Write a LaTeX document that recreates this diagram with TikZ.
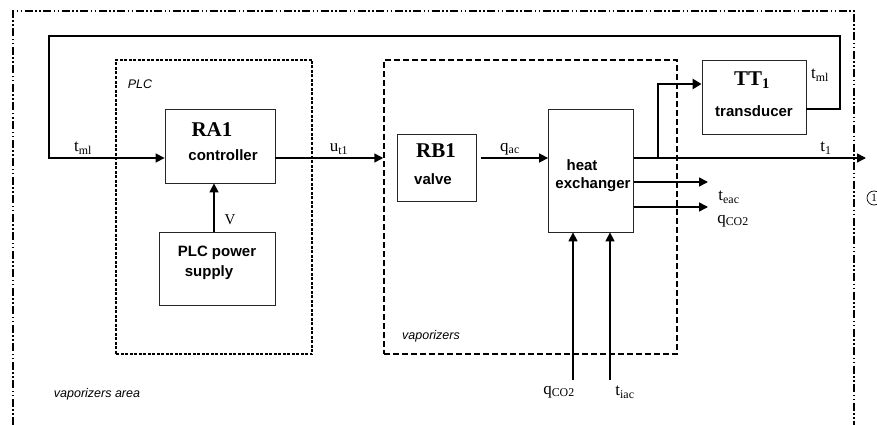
\documentclass[tikz,border=0pt]{standalone}
\usepackage{fontspec}
\setmainfont{Liberation Serif}
\setsansfont{Liberation Sans}
\usetikzlibrary{arrows.meta}

\begin{document}
\begin{tikzpicture}[x=1pt,y=-1pt,
  blk/.style={draw=black!85, line width=0.8pt, inner sep=0pt},
  region/.style={draw=black, inner sep=0pt},
  plcline/.style={line width=1.2pt, dash pattern=on 3pt off 1.5pt},
  vapline/.style={line width=1.5pt, dash pattern=on 6pt off 3pt},
  arealine/.style={line width=1.3pt, dash pattern=on 8pt off 2.5pt on 1.5pt off 2.5pt on 1.5pt off 2.5pt},
  sig/.style={line width=1.5pt, -{Triangle[length=9pt,width=9pt]}},
  ttl/.style={font=\bfseries\fontsize{21}{21}\selectfont, inner sep=0pt},
  nm/.style={font=\sffamily\bfseries\fontsize{15}{17}\selectfont, inner sep=0pt},
  lbl/.style={font=\fontsize{17}{17}\selectfont, inner sep=0pt},
  reg/.style={font=\sffamily\itshape\fontsize{12.5}{14}\selectfont, inner sep=0pt}
]
\useasboundingbox (0,0) rectangle (877,425);

% outer "vaporizers area" border (open at the bottom)
\draw[arealine] (13,425) -- (13,11) -- (854,11) -- (854,425);

% dashed groups
\node[region, plcline, minimum width=196, minimum height=294] (plc) at (214,207) {};
\node[region, vapline, minimum width=293, minimum height=294] (vap) at (530.5,207) {};
\node[reg] at (140,84) {PLC};
\node[reg] at (431,336) {vaporizers};
\node[reg] at (97,394) {vaporizers area};

% blocks
\node[blk, minimum width=110, minimum height=74] (ra) at (220,146) {};
\node[ttl] at (212,130) {RA1};
\node[nm] at (223,155) {controller};

\node[blk, minimum width=116, minimum height=73] (ps) at (217,268.5) {};
\node[nm] at (217,253) {PLC power};
\node[nm] at (209,273) {supply};

\node[blk, minimum width=79, minimum height=67] (rb) at (436.5,167.5) {};
\node[ttl] at (436,151) {RB1};
\node[nm] at (433,179) {valve};

\node[blk, minimum width=85, minimum height=123] (hx) at (591,170.5) {};
\node[nm] at (582,165) {heat};
\node[nm] at (593,185) {exchanger};

\node[blk, minimum width=104, minimum height=74] (tt) at (754,97) {};
\node[ttl] at (752,80) {TT\textsubscript{1}};
\node[nm] at (754,111) {transducer};

% reference points for signal levels and free ends
\coordinate (lvl) at (0,158);
\coordinate (vx) at (214,0);
\coordinate (br) at (658,158);
\coordinate (t1end) at (866,158);
\coordinate (teac) at (708,182);
\coordinate (qout) at (708,207);
\coordinate (qin) at (573,380);
\coordinate (tin) at (610,380);

% feedback loop t_ml
\draw[sig] ([yshift=-12pt]tt.east) -- (840,109) -- (840,36) -- (49,36) -- (49,158) -- (ra.west |- lvl);
\node[lbl] at (83,148) {t\textsubscript{ml}};
\node[lbl] at (820,75) {t\textsubscript{ml}};

% controller output
\draw[sig] (ra.east |- lvl) -- (vap.west |- lvl);
\node[lbl] at (339,149) {u\textsubscript{t1}};

% power supply
\draw[sig] (ps.north -| vx) -- (ra.south -| vx);
\node[font=\fontsize{15}{15}\selectfont, inner sep=0pt] at (230,220) {V};

% valve to heat exchanger
\draw[sig, shorten <=5pt] (rb.east |- lvl) -- (hx.west |- lvl);
\node[lbl] at (510,149) {q\textsubscript{ac}};

% heat exchanger outputs
\draw[sig] (hx.east |- lvl) -- (t1end);
\node[lbl] at (826,148) {t\textsubscript{1}};
\draw[line width=2.4pt, -{Triangle[length=9pt,width=10pt]}] (br) -- (658,84) -- (tt.west |- 0,84);
\draw[sig] (hx.east |- teac) -- (teac);
\draw[sig] (hx.east |- qout) -- (qout);
\node[lbl] at (729,197) {t\textsubscript{eac}};
\node[lbl] at (733,221) {q\textsubscript{CO2}};

% heat exchanger inputs
\draw[sig] (qin) -- (hx.south -| qin);
\draw[sig] (tin) -- (hx.south -| tin);
\node[lbl] at (559,392) {q\textsubscript{CO2}};
\node[lbl] at (625,392) {t\textsubscript{iac}};

% section mark
\node[draw, circle, line width=0.7pt, minimum size=14pt, inner sep=0pt, font=\fontsize{11}{11}\selectfont] (c1) at (874,198) {1};
\end{tikzpicture}
\end{document}
